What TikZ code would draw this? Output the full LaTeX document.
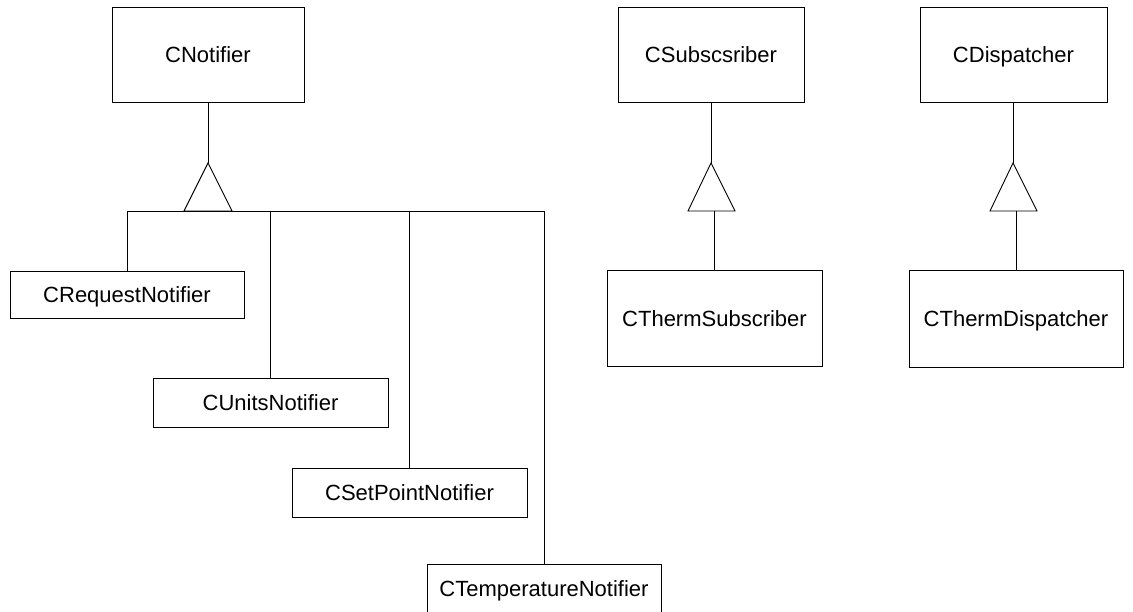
\documentclass[tikz,border=0pt]{standalone}
\usepackage{fontspec}
\setmainfont{Liberation Sans}
\begin{document}
\begin{tikzpicture}[x=1pt,y=-1pt,
  cls/.style={draw, line width=0.9pt, inner sep=0pt, text height=18pt, text depth=1.5pt, font=\fontsize{22}{26}\selectfont},
  lnk/.style={line width=0.9pt}]
\useasboundingbox (0,0) rectangle (1133,612);
% classes
\node[cls, minimum width=192pt, minimum height=95pt] (notifier) at (208,54.5) {CNotifier};
\node[cls, minimum width=234pt, minimum height=47pt] (req) at (127,294.5) {CRequestNotifier};
\node[cls, minimum width=235pt, minimum height=49pt] (units) at (270.5,402.5) {CUnitsNotifier};
\node[cls, minimum width=235pt, minimum height=49pt] (setp) at (409.5,492.5) {CSetPointNotifier};
\node[cls, minimum width=234pt, minimum height=49pt] (temp) at (544,588.5) {CTemperatureNotifier};
\node[cls, minimum width=186pt, minimum height=95pt] (subs) at (711,54.5) {CSubscsriber};
\node[cls, minimum width=215pt, minimum height=96pt] (tsubs) at (714.5,318) {CThermSubscriber};
\node[cls, minimum width=187pt, minimum height=95pt] (disp) at (1013.5,54.5) {CDispatcher};
\node[cls, minimum width=214pt, minimum height=97pt] (tdisp) at (1016,318.5) {CThermDispatcher};
% notifier inheritance
\coordinate (t1) at (208,163);
\coordinate (t1l) at (184,211);
\coordinate (t1r) at (232,211);
\coordinate (busL) at (127,211);
\coordinate (busR) at (544,211);
\draw[lnk] (notifier.south) -- (t1);
\draw[lnk] (t1) -- (t1l) -- (t1r) -- cycle;
\draw[lnk] (busL) -- (busR);
\draw[lnk] (busL) -- (req.north);
\draw[lnk] (units.north |- busL) -- (units.north);
\draw[lnk] (setp.north |- busL) -- (setp.north);
\draw[lnk] (busR) -- (temp.north);
% subscriber inheritance
\coordinate (t2) at (711,163);
\coordinate (t2l) at (688,211);
\coordinate (t2r) at (735,211);
\coordinate (t2b) at (714,211);
\draw[lnk] (subs.south) -- (t2);
\draw[lnk] (t2) -- (t2l) -- (t2r) -- cycle;
\draw[lnk] (t2b) -- (t2b |- tsubs.north);
% dispatcher inheritance
\coordinate (t3) at (1013,163);
\coordinate (t3l) at (990,211);
\coordinate (t3r) at (1037,211);
\coordinate (t3b) at (1016,211);
\draw[lnk] (disp.south -| t3) -- (t3);
\draw[lnk] (t3) -- (t3l) -- (t3r) -- cycle;
\draw[lnk] (t3b) -- (tdisp.north);
\end{tikzpicture}
\end{document}
